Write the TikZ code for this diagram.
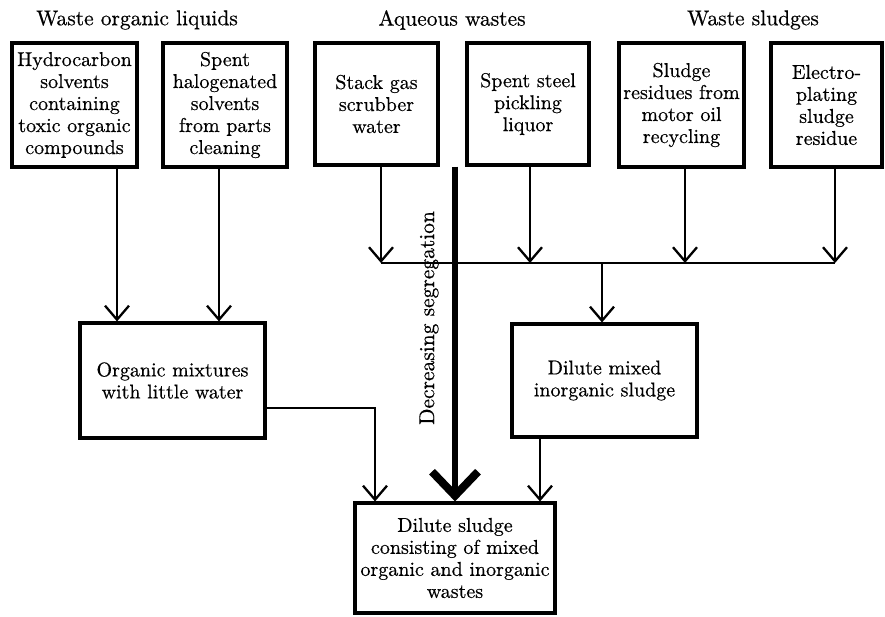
\documentclass[tikz,border=0pt]{standalone}
\usepackage{fontspec}
\setmainfont{lmroman10-regular.otf}[FakeBold=0.5]
\usetikzlibrary{arrows.meta,calc}
\begin{document}
\begin{tikzpicture}[x=1pt,y=-1pt,
  txt/.style={font=\fontsize{20}{22}\selectfont},
  lbl/.style={font=\fontsize{21.5}{23}\selectfont},
  box/.style={txt,draw,line width=3.1pt,align=center,inner sep=0pt},
  arr/.style={line width=2.3pt,-{Straight Barb[length=14pt,width=24pt]}},
  bus/.style={line width=2.3pt},
  bigarr/.style={line width=6pt,-{Straight Barb[length=24pt,width=46pt,line width=8pt]}}]
\useasboundingbox (0,0) rectangle (885,617);
% top labels
\node[lbl] (t1) at (137,20) {Waste organic liquids};
\node[lbl] (t2) at (452,20) {Aqueous wastes};
\node[lbl] (t3) at (753,20) {Waste sludges};
% top boxes
\node[box,minimum width=125pt,minimum height=124pt] (b1) at (74.5,105) {Hydrocarbon\\solvents\\containing\\toxic organic\\compounds};
\node[box,minimum width=124pt,minimum height=124pt] (b2) at (225,105) {Spent\\halogenated\\solvents\\from parts\\cleaning};
\node[box,minimum width=123pt,minimum height=122pt] (b3) at (376.5,104) {Stack gas\\scrubber\\water};
\node[box,minimum width=122pt,minimum height=122pt] (b4) at (528,104) {Spent steel\\pickling\\liquor};
\node[box,minimum width=125pt,minimum height=124pt] (b5) at (681.5,105) {Sludge\\residues from\\motor oil\\recycling};
\node[box,minimum width=111pt,minimum height=124pt] (b6) at (826.5,105) {Electro-\\plating\\sludge\\residue};
% middle boxes
\node[box,minimum width=185pt,minimum height=115pt] (org) at (172.5,380.5) {Organic mixtures\\with little water};
\node[box,minimum width=185pt,minimum height=113pt] (mix) at (604.5,380.5) {Dilute mixed\\inorganic sludge};
% final box
\node[box,minimum width=200pt,minimum height=110pt] (fin) at (455,558) {Dilute sludge\\consisting of mixed\\organic and inorganic\\wastes};
% label
\node[lbl,rotate=90] (dec) at (429,318) {Decreasing segregation};
% helper coordinates
\coordinate (x1) at (117,0);
\coordinate (x2) at (219,0);
\coordinate (x3) at (381,263);
\coordinate (x4) at (530,263);
\coordinate (x5) at (685,263);
\coordinate (x6) at (835,263);
\coordinate (xm) at (602,263);
\coordinate (xt) at (455,0);
\coordinate (xo) at (375,0);
\coordinate (yo) at (0,408);
\coordinate (xd) at (540,0);
% connectors
\draw[arr] (b1.south -| x1) -- (org.north -| x1);
\draw[arr] (b2.south -| x2) -- (org.north -| x2);
\draw[bus] (x3) -- (x6);
\draw[arr] (b3.south -| x3) -- (x3);
\draw[arr] (b4.south -| x4) -- (x4);
\draw[arr] (b5.south -| x5) -- (x5);
\draw[arr] (b6.south -| x6) -- (x6);
\draw[arr] (xm) -- (mix.north -| xm);
\draw[arr] (org.east |- yo) -- (xo |- yo) -- (fin.north -| xo);
\draw[arr] (mix.south -| xd) -- (fin.north -| xd);
\draw[bigarr] (b3.south -| xt) -- (fin.north -| xt);
\end{tikzpicture}
\end{document}
